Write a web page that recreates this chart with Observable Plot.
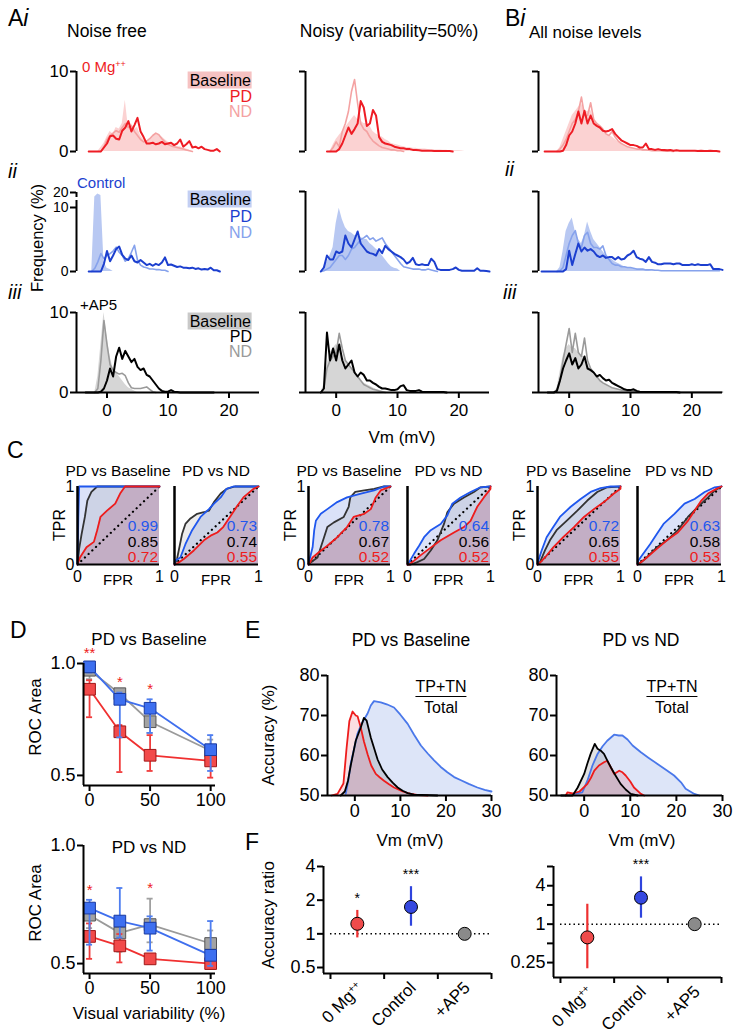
<!DOCTYPE html>
<html><head><meta charset="utf-8">
<script src="https://cdn.jsdelivr.net/npm/d3@7"></script>
<script src="https://cdn.jsdelivr.net/npm/@observablehq/plot@0.6"></script>
<style>
html,body{margin:0;padding:0;background:#fff;}
#fig{position:relative;width:739px;height:1036px;overflow:hidden;font-family:Arial,"Liberation Sans",Helvetica,sans-serif;color:#000;}
.t{position:absolute;white-space:nowrap;line-height:1;transform-origin:0 0;}
.t sup{font-size:0.6em;vertical-align:0.55em;line-height:0;}
</style></head><body><div id="fig"></div><script>
const FONT = 'Arial, "Liberation Sans", Helvetica, sans-serif';
const BIN = 0.5;
// ================= DATA =================
// Histograms (Frequency %, bins of 0.5 mV starting at x0)
const NF_MG_BASE = {x0:-1.5, v:[0,0.5,1.0,1.8,2.5,2.2,3.0,2.8,3.5,6.4,3.0,3.5,2.8,3.0,2.0,1.5,1.2,1.4,1.8,2.2,2.0,1.8,1.5,1.2,1.0,0.8,0.6,0.6,0.4,0.3,0.2,0]};
const NF_MG_ND   = {x0:-1, v:[0,0.6,1.5,2.0,2.3,2.6,2.4,3.0,3.5,3.0,3.2,2.5,2.0,1.5,1.2,1.3,1.6,2.0,2.3,2.1,1.6,1.2,0.9,0.7,0.6,0.5,0.4,0.3,0.2,0.1,0]};
const NF_MG_PD   = {x0:-3, v:[0,0,0,0,0,0.5,1.0,1.9,2.0,1.6,1.5,2.6,3.0,3.8,2.5,3.3,4.2,2.5,1.8,1.0,1.0,1.1,0.9,1.0,1.2,0.9,1.0,1.1,0.8,1.0,1.5,0.6,0.9,1.3,0.5,0.6,0.4,0.6,0.3,0.2,0.1,0.1,0.3,0]};
const NF_CT_BASE = {x0:-2.5, v:[0,17,19,18,1.5,0.5,0.3,0]};
const NF_CT_ND   = {x0:-2.5, v:[0,0.5,1.5,2.8,2.0,2.5,2.8,3.2,3.8,3.0,2.5,1.6,2.0,3.0,4.1,1.8,1.0,0.7,0.6,0.4,0.4,0.3,0.3,0.2,0.2,0]};
const NF_CT_PD   = {x0:-3, v:[0,0,0,0,0,1.2,3.2,1.6,2.5,3.5,3.9,2.6,2.0,1.8,2.5,1.6,1.4,1.8,1.4,1.0,1.2,0.9,1.2,1.0,1.4,2.2,1.0,1.1,0.9,0.7,0.8,0.6,0.6,0.5,0.6,0.4,0.5,0.3,0.4,0.3,0.6,0.2,0.2,0]};
const NF_AP_BASE = {x0:-2, v:[0,2.0,6.0,10.0,7.0,4.5,3.0,2.5,2.0,1.5,1.0,0.6,0.4,0.2,0]};
const NF_AP_ND   = {x0:-2, v:[0,0.5,4.0,9.0,6.0,3.5,2.8,2.5,2.3,2.4,2.1,1.2,0.6,0.5,0.5,0.5,0.6,0.7,0.4,0.1,0]};
const NF_AP_PD   = {x0:-3.5, v:[0,0,0,0,0,0.1,0.5,1.5,3.0,2.0,4.5,5.6,4.2,5.2,4.5,3.8,4.2,3.2,2.8,3.0,2.2,2.0,1.5,1.0,0.5,0.2,0.1,0.1,0.3,0.1,0.05,0,0,0,0,0,0,0,0,0,0,0,0]};
const NS_MG_BASE = {x0:-1, v:[0,0.8,1.5,2.0,2.5,3.0,3.5,4.0,4.5,4.0,3.8,3.5,3.5,3.2,2.5,2.2,2.0,1.8,1.5,1.3,1.0,0.9,0.8,0.7,0.6,0.5,0.5,0.4,0.4,0.3,0.3,0.3,0.25,0.2,0.2,0.2,0.2,0.15,0.15,0.1,0.1,0.1,0.1,0.05,0]};
const NS_MG_ND   = {x0:-1, v:[0,0.5,1.2,0.6,2.5,3.5,5.0,7.5,9.0,6.0,3.5,2.8,2.5,1.8,1.3,1.0,0.7,0.5,0.4,0.3,0.2,0.2,0.1,0.1,0]};
const NS_MG_PD   = {x0:-1.5, v:[0,0,0,0,0.3,1.0,2.0,3.0,2.2,2.8,3.5,6.3,5.5,3.2,3.5,5.2,4.5,1.8,1.2,1.0,0.9,0.8,0.6,0.5,0.4,0.4,0.3,0.3,0.2,0.2,0.15,0.1,0.1,0.1,0.1,0.05,0.05,0.05,0.05,0.05,0.05,0]};
const NS_CT_BASE = {x0:-2.5, v:[0,0.5,1.2,2.0,3.0,6.0,7.9,6.5,5.5,5.0,4.8,4.5,4.5,4.3,4.0,4.0,3.5,3.2,2.8,2.5,2.0,1.5,1.0,0.6,0.4,0.3,0]};
const NS_CT_ND   = {x0:-2.5, v:[0,0.1,0.3,0.5,1.0,1.5,2.0,2.0,1.5,2.0,2.8,3.0,3.5,4.0,4.2,4.5,4.0,4.2,3.8,4.0,4.2,3.5,3.0,2.5,2.0,1.5,1.0,0.6,0.5,0.4,0.3,0.3,0.3,0.2,0.2,0.3,0.2,0.1,0]};
const NS_CT_PD   = {x0:-2.5, v:[0,0.5,2.0,1.5,1.5,2.5,2.3,2.5,4.5,3.5,3.0,4.0,5.0,3.5,3.0,2.5,2.3,2.2,2.0,2.8,2.3,3.2,2.8,2.5,2.2,2.0,1.8,1.5,1.0,1.2,1.7,0.9,0.8,0.9,0.8,0.8,1.6,1.2,0.3,0.2,0.2,0.2,0.2,0.3,0.5,0.2,0.1,0.1,0.1,0.1,0.1,0.4,0.1,0.1,0.05,0]};
const NS_AP_BASE = {x0:-2.5, v:[0,1.0,3.5,5.0,5.5,6.0,5.5,4.5,4.0,3.5,3.0,2.5,2.0,1.5,1.2,1.0,0.8,0.6,0.4,0.3,0.2,0.1,0]};
const NS_AP_ND   = {x0:-2.5, v:[0,0.5,3.0,4.0,4.5,5.0,7.4,5.5,4.0,3.5,3.0,2.5,2.0,1.5,1.0,0.8,0.6,0.4,0.3,0.2,0.1,0]};
const NS_AP_PD   = {x0:-2.5, v:[0,0.5,7.5,4.0,5.5,4.0,6.0,4.0,3.0,3.5,4.0,2.5,2.0,2.5,2.2,1.5,1.5,1.2,1.0,0.7,0.5,0.5,0.4,0.3,0.3,0.4,0.8,0.9,0.3,0.2,0.2,0.2,0.3,0.1,0.05,0.05,0.05,0.05,0.05,0.05,0.05,0]};
const AL_MG_BASE = {x0:-2, v:[0,0.5,1.5,2.5,3.5,4.5,5.0,5.5,6.0,5.0,5.0,5.2,4.2,3.5,3.0,2.6,2.2,2.0,1.8,1.5,1.2,1.0,0.8,0.6,0.5,0.4,0.3,0.3,0.2,0.2,0.2,0.1,0.1,0.1,0.1,0.05,0]};
const AL_MG_ND   = {x0:-2, v:[0,0.3,0.8,1.5,2.5,3.5,4.0,5.0,6.8,4.5,4.5,6.1,4.0,3.5,3.2,2.8,2.2,2.0,2.5,1.8,1.3,1.0,0.8,0.6,0.5,0.4,0.3,0.3,0.2,0.2,0.15,0.1,0.1,0.1,0.1,0.05,0.05,0.05,0]};
const AL_MG_PD   = {x0:-4, v:[0,0,0,0,0,0,0.1,0.8,2.0,2.5,3.5,5.0,3.5,5.1,3.5,4.5,3.5,3.2,3.0,2.6,2.5,2.6,2.8,2.2,1.8,1.4,1.2,1.0,0.8,0.8,0.7,0.5,0.5,1.0,0.3,0.3,0.2,0.3,0.2,0.2,0.15,0.2,0.1,0.15,0.1,0.1,0.1,0.1,0.1,0.1,0.05,0.1,0.05,0.05,0.1,0.05,0.05,0]};
const AL_CT_BASE = {x0:-2, v:[0,0.5,2.5,5.0,6.0,6.7,5.0,4.0,3.5,4.5,6.2,5.0,4.0,3.5,3.0,2.5,2.0,1.8,1.5,1.2,1.0,0.8,0.6,0.5,0.4,0.3,0.3,0.2,0.2,0.1,0.1,0]};
const AL_CT_ND   = {x0:-2, v:[0,0.1,0.5,2.0,3.5,4.5,5.1,3.5,3.0,4.5,4.9,3.5,3.0,3.0,2.8,3.2,2.0,1.5,1.0,0.8,0.8,0.6,0.6,0.5,0.5,0.4,0.3,0.3,0.3,0.2,0.2,0.2,0.15,0.15,0.1,0.1,0.1,0.1,0.1,0.1,0.1,0.1,0.1,0.1,0.1,0.1,0.1,0.1,0.1,0.1,0.1,0.1,0.1,0.1]};
const AL_CT_PD   = {x0:-4.5, v:[0,0,0,0,0,0,0,0,0.3,2.6,0.8,2.2,3.5,2.5,3.0,2.6,2.8,2.5,2.0,1.8,2.0,1.7,1.8,1.8,1.5,1.8,1.5,1.6,2.0,2.2,2.6,1.8,1.6,1.5,1.2,1.8,1.2,1.1,0.9,0.9,1.0,1.0,1.0,0.9,1.0,1.0,0.8,0.8,0.8,0.9,0.8,0.9,0.8,0.8,0.8,0.9,0.3,0.3,0.3,0.2]};
const AL_AP_BASE = {x0:-2.5, v:[0,0.5,2.5,4.5,5.5,6.0,5.5,5.5,5.0,4.5,4.5,3.5,3.0,2.5,2.0,1.5,1.2,1.0,0.8,0.6,0.5,0.4,0.3,0.2,0.1,0.1,0.05,0]};
const AL_AP_ND   = {x0:-2.5, v:[0,0.3,1.5,4.0,6.0,8.0,5.0,7.4,5.0,4.5,6.8,4.0,3.0,2.5,2.0,1.5,1.2,1.0,0.8,0.6,0.5,0.4,0.3,0.3,0.2,0.2,0.2,0.1,0.1,0.05,0.05,0.05,0.05,0.05,0.05,0.05,0.05,0.05,0.05,0.05,0.05,0.05,0.05,0.05,0.05,0.05,0.05,0.05,0.05,0.05,0.05,0.05,0.05,0.05,0.05,0.05]};
const AL_AP_PD   = {x0:-3.5, v:[0,0,0,0.2,1.5,3.0,4.0,4.9,3.5,4.3,3.0,3.5,4.5,3.0,2.8,2.5,2.0,2.2,1.8,1.5,1.6,1.2,1.0,0.8,0.6,0.4,0.3,0.3,0.4,0.2,0.1,0.05,0.05,0.05,0.05,0.05,0.05,0.05,0.05,0.05,0.05,0.05,0.05,0]};

// ROC curves [FPR, TPR]
const DIAG = [[0,0],[1,1]];
const C1_BLUE = [[0,0],[0.005,0.3],[0.01,0.6],[0.02,1],[1,1]];
const C1_BLACK = [[0,0],[0.02,0.2],[0.05,0.39],[0.09,0.61],[0.12,0.82],[0.17,0.93],[0.24,1],[1,1]];
const C1_RED = [[0,0],[0.03,0.09],[0.11,0.22],[0.2,0.29],[0.24,0.44],[0.28,0.61],[0.36,0.69],[0.46,0.78],[0.52,0.91],[0.58,1],[1,1]];
const C2_BLUE = [[0,0],[0.01,0.05],[0.07,0.09],[0.13,0.26],[0.21,0.44],[0.31,0.61],[0.41,0.71],[0.47,0.78],[0.55,0.86],[0.62,0.97],[0.7,1],[1,1]];
const C2_BLACK = [[0,0],[0.03,0.07],[0.09,0.39],[0.13,0.52],[0.19,0.59],[0.27,0.65],[0.35,0.67],[0.41,0.69],[0.47,0.8],[0.55,0.91],[0.62,0.97],[0.72,1],[1,1]];
const C2_RED = [[0,0],[0.03,0.01],[0.11,0.07],[0.23,0.18],[0.35,0.31],[0.43,0.37],[0.51,0.41],[0.58,0.48],[0.66,0.61],[0.74,0.74],[0.82,0.86],[0.94,0.97],[1,1]];
const C3_BLUE = [[0,0],[0.01,0.05],[0.05,0.22],[0.07,0.44],[0.09,0.56],[0.15,0.65],[0.23,0.71],[0.35,0.8],[0.47,0.86],[0.64,0.91],[0.8,0.95],[0.92,1],[1,1]];
const C3_BLACK = [[0,0],[0.03,0.03],[0.11,0.09],[0.15,0.22],[0.19,0.35],[0.23,0.48],[0.31,0.54],[0.43,0.61],[0.49,0.74],[0.51,0.86],[0.57,0.93],[0.68,0.95],[0.8,0.97],[0.92,1],[1,1]];
const C3_RED = [[0,0],[0.01,0.01],[0.05,0.09],[0.13,0.16],[0.23,0.24],[0.33,0.33],[0.47,0.48],[0.55,0.61],[0.68,0.65],[0.76,0.71],[0.82,0.86],[0.88,0.95],[1,1]];
const C4_BLUE = [[0,0],[0.02,0.03],[0.08,0.14],[0.14,0.24],[0.2,0.35],[0.28,0.44],[0.4,0.52],[0.48,0.63],[0.54,0.78],[0.64,0.86],[0.76,0.93],[0.88,0.99],[1,1]];
const C4_BLACK = [[0,0],[0.04,0],[0.12,0.03],[0.2,0.07],[0.28,0.18],[0.36,0.31],[0.44,0.52],[0.48,0.67],[0.56,0.78],[0.68,0.86],[0.8,0.93],[0.88,0.99],[1,1]];
const C4_RED = [[0,0],[0.02,0],[0.08,0.05],[0.16,0.12],[0.26,0.2],[0.4,0.31],[0.56,0.41],[0.68,0.48],[0.76,0.56],[0.84,0.74],[0.92,0.86],[1,0.97],[1,1]];
const C5_BLUE = [[0,0],[0.01,0.05],[0.05,0.18],[0.11,0.35],[0.19,0.48],[0.27,0.61],[0.4,0.74],[0.52,0.84],[0.64,0.93],[0.76,0.98],[0.88,1],[1,1]];
const C5_BLACK = [[0,0],[0.03,0.03],[0.09,0.18],[0.15,0.31],[0.23,0.44],[0.35,0.56],[0.48,0.69],[0.6,0.82],[0.72,0.93],[0.84,0.99],[1,1]];
const C5_RED = [[0,0],[0.02,0.01],[0.09,0.09],[0.19,0.22],[0.31,0.35],[0.44,0.48],[0.56,0.61],[0.68,0.71],[0.8,0.8],[0.92,0.91],[1,0.97],[1,1]];
const C6_BLUE = [[0,0],[0.01,0.05],[0.07,0.14],[0.15,0.26],[0.23,0.39],[0.31,0.52],[0.44,0.65],[0.56,0.78],[0.68,0.84],[0.8,0.93],[0.92,0.99],[1,1]];
const C6_BLACK = [[0,0],[0.02,0.01],[0.11,0.09],[0.23,0.22],[0.35,0.31],[0.48,0.44],[0.6,0.61],[0.72,0.74],[0.84,0.86],[0.92,0.95],[1,1]];
const C6_RED = [[0,0],[0.02,0.01],[0.11,0.09],[0.23,0.2],[0.35,0.31],[0.48,0.41],[0.6,0.56],[0.68,0.69],[0.76,0.82],[0.84,0.91],[0.94,0.97],[1,1]];
const AUC = [[0.99,0.85,0.72],[0.73,0.74,0.55],[0.78,0.67,0.52],[0.64,0.56,0.52],[0.72,0.65,0.55],[0.63,0.58,0.53]];

// D: ROC area vs visual variability
const VIS = [0,25,50,100];
const DB_BLUE_M = [0.985,0.84,0.80,0.615], DB_BLUE_LO=[0.96,0.67,0.69,0.52], DB_BLUE_HI=[1.0,0.87,0.84,0.68];
const DB_GRAY_M = [0.97,0.865,0.74,0.61], DB_GRAY_LO=[0.93,0.84,0.69,0.55], DB_GRAY_HI=[1.0,0.87,0.79,0.66];
const DB_RED_M  = [0.885,0.695,0.59,0.565], DB_RED_LO=[0.76,0.515,0.52,0.49], DB_RED_HI=[0.925,0.725,0.68,0.58];
const DN_BLUE_M = [0.735,0.68,0.65,0.535], DN_BLUE_LO=[0.58,0.61,0.555,0.49], DN_BLUE_HI=[0.77,0.82,0.70,0.68];
const DN_GRAY_M = [0.705,0.63,0.665,0.585], DN_GRAY_LO=[0.65,0.55,0.59,0.53], DN_GRAY_HI=[0.75,0.70,0.775,0.64];
const DN_RED_M  = [0.615,0.575,0.52,0.50], DN_RED_LO=[0.52,0.505,0.50,0.49], DN_RED_HI=[0.67,0.625,0.54,0.53];
const DB_STARS = ['**','*','*',''], DN_STARS = ['*','','*',''];

// E: accuracy (%) vs Vm threshold
const EB_RED = [[-5.1,50],[-3.8,50.4],[-2.5,53],[-1.8,62],[-1.2,68.6],[-0.5,71],[0.2,70],[0.6,69.8],[1.3,67],[2,63.5],[2.8,60.3],[3.6,57.5],[4.6,55.4],[5.5,54.5],[6.4,53.7],[7.5,52.8],[8.6,52],[10.5,51],[12.3,50.4],[14,50.1],[16,50]];
const EB_BLACK = [[-3.1,50],[-2.2,51],[-1.5,53.7],[-0.9,57.5],[0.2,63.7],[1.3,67],[2,69.4],[2.6,68.7],[3.5,64.5],[5,59],[6,56.5],[7.2,54.6],[8.3,53.2],[9.4,52],[10.5,51.2],[11.6,50.6],[13,50.2],[18.1,50]];
const EB_BLUE = [[-2,50.4],[-1.4,54],[-0.9,58],[0.6,65.5],[1.5,68],[2.8,70.5],[3.5,72.5],[4.2,73.6],[5.7,73.3],[7,72.8],[8.6,72],[10,70.2],[11.6,67.9],[13,65.2],[14.5,62.5],[16,60.5],[17.4,58.8],[18.8,57.2],[20.3,55.8],[21.8,54.6],[23.3,53.8],[25,52.9],[26.9,52],[28.5,51.4],[30,51]];
const EN_BLACK = [[-5,50],[-2.5,50],[-1.4,52],[0,55.4],[0.7,58],[1.4,60.4],[2.3,62.9],[2.9,61.7],[3.6,61.2],[4.3,60.4],[5,58.8],[5.8,57],[6.8,55],[7.9,52.9],[9,51.5],[10.1,50.4],[11.6,50]];
const EN_RED = [[-4,50],[-3.6,50.8],[-2.5,50.5],[-1,51],[0.7,52.9],[1.5,54.5],[2.2,56.2],[3.2,57.5],[4.3,58.3],[5,58.7],[5.8,57],[6.5,55.4],[7.6,56.2],[8.3,55.8],[9,55],[10,53.5],[10.8,52],[12.3,50.4],[13,50]];
const EN_BLUE = [[-2.2,50.4],[-0.4,50.8],[0.7,53.7],[1.8,57.5],[2.9,60.4],[4,62.3],[5,63.7],[6.5,65.2],[7.5,65],[8.3,65],[9.4,64],[10.5,62.5],[12.3,60.8],[14,59.4],[15.9,57.9],[17.8,56.4],[19.5,55],[21,53.3],[22,51.7],[23.9,50.4],[25,50]];

// F: accuracy ratio
const CATS = ['0 Mg<sup>++</sup>','Control','+AP5'];
const FB_M = [1.23,1.74,1.0], FB_LO=[0.92,1.17,null], FB_HI=[1.62,2.64,null], FB_STARS=['*','***',''];
const FN_M = [0.62,2.6,1.0], FN_LO=[0.2,1.24,null], FN_HI=[2.05,5.5,null], FN_STARS=['','***',''];

// ================= LAYOUT HELPERS =================
const RED='#ee1c24', BLUE='#1c3fcf', LBLUE='#86a2ec', PINK='#f4a2a2', GRAY='#9a9a9a';
const root = document.getElementById('fig');
function put(el, x, y){ el.style.position='absolute'; el.style.left=x+'px'; el.style.top=y+'px'; root.appendChild(el); }
function T(html, x, y, o={}){
  const d=document.createElement('div'); d.className='t'; d.innerHTML=html;
  const a=o.anchor||'start'; const tx=a==='start'?'0':a==='middle'?'-50%':'-100%';
  d.style.left=x+'px'; d.style.top=y+'px'; d.style.fontSize=(o.size||17)+'px';
  if(o.color) d.style.color=o.color;
  if(o.bg){ d.style.background=o.bg; d.style.padding='1px 1px 0 2px'; }
  if(o.css) d.style.cssText += o.css;
  d.style.transform=`rotate(${o.rot||0}deg) translate(${tx},-50%)`;
  root.appendChild(d); return d;
}
function mk(box, m, spec){
  const [x0,y0,x1,y1]=box; const l=m.l??10, r=m.r??10, t=m.t??10, b=m.b??10;
  const svg = Plot.plot({width:l+(x1-x0)+r, height:t+(y1-y0)+b, marginLeft:l, marginRight:r, marginTop:t, marginBottom:b,
    style:{overflow:'visible', fontFamily:FONT, fontSize:(m.fs||17)+'px', color:'#000', background:'none', maxWidth:'none'}, ...spec});
  put(svg, x0-l, y0-t); svg._left=x0-l; svg._top=y0-t; return svg;
}
const ser = s => s.v.map((y,i)=>({x: s.x0 + i*BIN, y}));

// ================= HISTOGRAMS =================
const XB=[[76,259],[305,489],[538,722]];
const YB=[[71,151],[191,271],[312,392]];
const COL=[{fill:'#fbd2d2', nd:PINK, pd:RED},{fill:'#b8c8f2', nd:LBLUE, pd:BLUE},{fill:'#d6d6d6', nd:GRAY, pd:'#000'}];
function hist(ci, ri, base, nd, pd, broken){
  const [x0,x1]=XB[ci]; let [y0,y1]=YB[ri]; if(broken) y0=192;
  const t=12, b=(ri===2?32:6), l=40, r=8, H=y1-y0;
  const ticks = broken?[0,10,20]:[0,10];
  const yS = broken ? {type:'linear', domain:[0,10,20], range:[t+H, t+H-64, t]} : {domain:[0,10]};
  const C=COL[ri];
  const marks=[
    Plot.areaY(ser(base), {x:'x', y:'y', fill:C.fill}),
    Plot.lineY(ser(nd), {x:'x', y:'y', stroke:C.nd, strokeWidth:1.6}),
    Plot.lineY(ser(pd), {x:'x', y:'y', stroke:C.pd, strokeWidth:2}),
    Plot.ruleX([-5], {y1:0, y2:ticks[ticks.length-1], stroke:'#000', strokeWidth:2}),
    Plot.axisY({ticks, tickSize:6, strokeWidth:2, label:null, tickPadding:2, fontSize: broken?14:17, tickFormat: ci===0 ? (d=>String(d)) : (()=>'')})
  ];
  if(broken){ marks.push(Plot.ruleY([16],{x1:-5.6,x2:-4.4,stroke:'#fff',strokeWidth:3})); }
  if(ri===2){ marks.push(Plot.ruleY([0],{x1:-5,x2:25,stroke:'#000',strokeWidth:2}), Plot.axisX({ticks:[0,10,20], tickSize:6, strokeWidth:2, label:null, tickPadding:5})); }
  mk([x0,y0,x1,y1],{l,r,t,b},{x:{domain:[-5,25], ...(ri===2?{}:{axis:null})}, y:yS, marks});
}
hist(0,0,NF_MG_BASE,NF_MG_ND,NF_MG_PD);
hist(0,1,NF_CT_BASE,NF_CT_ND,NF_CT_PD,true);
hist(0,2,NF_AP_BASE,NF_AP_ND,NF_AP_PD);
hist(1,0,NS_MG_BASE,NS_MG_ND,NS_MG_PD);
hist(1,1,NS_CT_BASE,NS_CT_ND,NS_CT_PD);
hist(1,2,NS_AP_BASE,NS_AP_ND,NS_AP_PD);
hist(2,0,AL_MG_BASE,AL_MG_ND,AL_MG_PD);
hist(2,1,AL_CT_BASE,AL_CT_ND,AL_CT_PD);
hist(2,2,AL_AP_BASE,AL_AP_ND,AL_AP_PD);

// ================= ROC (C) =================
const ROCBOX=[[77,486,159,564],[174,486,258,564],[308,486,390,564],[407,486,490,564],[537,486,620,564],[637,486,721,564]];
const ROCS=[[C1_BLUE,C1_BLACK,C1_RED],[C2_BLUE,C2_BLACK,C2_RED],[C3_BLUE,C3_BLACK,C3_RED],[C4_BLUE,C4_BLACK,C4_RED],[C5_BLUE,C5_BLACK,C5_RED],[C6_BLUE,C6_BLACK,C6_RED]];
ROCS.forEach(([bl,bk,rd],k)=>{
  const showY = k%2===0;
  const P={x:d=>d[0], y:d=>d[1]};
  const marks=[
    Plot.areaY(bl,{...P, fill:'#8ea5ea', fillOpacity:0.32}),
    Plot.areaY(bk,{...P, fill:'#777', fillOpacity:0.14}),
    Plot.areaY(rd,{...P, fill:'#a8506e', fillOpacity:0.28}),
    Plot.line(DIAG,{stroke:'#000', strokeWidth:2.2, strokeDasharray:'0.1,5', strokeLinecap:'round'}),
    Plot.line(bk,{stroke:'#333', strokeWidth:1.8}),
    Plot.line(bl,{stroke:'#1f57ee', strokeWidth:1.8}),
    Plot.line(rd,{stroke:'#ee1c1c', strokeWidth:1.8}),
    Plot.ruleX([0],{stroke:'#000', strokeWidth:2.5}),
    Plot.ruleY([0],{stroke:'#000', strokeWidth:2}),
    Plot.axisX({ticks:[0,1], tickSize:0, tickPadding:6, label:null, tickFormat:d=>String(d)})
  ];
  if(showY) marks.push(Plot.axisY({ticks:[0,1], tickSize:0, tickPadding:3, label:null, tickFormat:d=>String(d)}));
  mk(ROCBOX[k],{l:14,r:6,t:6,b:24,fs:16},{x:{domain:[0,1]}, y:{domain:[0,1], ...(showY?{}:{axis:null})}, marks});
  const [x0,y0,x1,y1]=ROCBOX[k];
  T(k%2===0?'PD vs Baseline':'PD vs ND',(x0+x1)/2,471,{anchor:'middle',size:15.5});
  T('FPR',(x0+x1)/2,579,{anchor:'middle',size:15});
  const cols=['#1f57ee','#000','#ee1c1c'];
  AUC[k].forEach((v,j)=>T(v.toFixed(2), x1-1, 526+j*15.5, {anchor:'end', size:15.5, color:cols[j]}));
  if(showY) T('TPR', x0-17, 525, {rot:-90, anchor:'middle', size:16});
});

// ================= D =================
function dplot(box, ydom, groups, stars){
  const marks=[];
  groups.forEach(g=>{
    const data=VIS.map((x,i)=>({x, m:g.m[i], lo:g.lo[i], hi:g.hi[i]}));
    marks.push(
      Plot.ruleX(data,{x:'x', y1:'lo', y2:'hi', stroke:g.err, strokeWidth:1.8}),
      Plot.ruleY(data,{y:'lo', x1:d=>d.x-2.5, x2:d=>d.x+2.5, stroke:g.err, strokeWidth:1.8}),
      Plot.ruleY(data,{y:'hi', x1:d=>d.x-2.5, x2:d=>d.x+2.5, stroke:g.err, strokeWidth:1.8}),
      Plot.line(data,{x:'x', y:'m', stroke:g.line, strokeWidth:1.8}),
      Plot.dot(data,{x:'x', y:'m', symbol:'square', r:6.6, fill:g.fill, stroke:g.stroke, strokeWidth:1})
    );
  });
  const top = VIS.map((x,i)=>({x, y:Math.max(...groups.map(g=>g.hi[i])), s:stars[i]}));
  marks.push(
    Plot.text(top,{x:'x', y:'y', text:'s', fill:'#ee1c1c', fontSize:15, dy:-10}),
    Plot.ruleX([-5],{y1:ydom[0], y2:1.0, stroke:'#000', strokeWidth:2}),
    Plot.ruleY([ydom[0]],{x1:-5, x2:104, stroke:'#000', strokeWidth:2}),
    Plot.axisY({ticks:[0.5,1.0], tickFormat:'.1f', tickSize:6, strokeWidth:2, tickPadding:2, label:null}),
    Plot.axisX({ticks:[0,50,100], tickSize:6, strokeWidth:2, tickPadding:2, label:null})
  );
  mk(box,{l:45,r:12,t:14,b:30,fs:18},{x:{domain:[-5,104]}, y:{domain:ydom}, marks});
}
const GB=(m,lo,hi)=>({m,lo,hi,err:'#a0a0a0',line:'#9a9a9a',fill:'#a3a3a3',stroke:'#555'});
const RB=(m,lo,hi)=>({m,lo,hi,err:'#f03c3c',line:'#f03030',fill:'#f24a4a',stroke:'#a01818'});
const BB=(m,lo,hi)=>({m,lo,hi,err:'#4f7ef0',line:'#3f6fee',fill:'#3d6ff0',stroke:'#1a3aa0'});
dplot([83,663,215,785],[0.455,1.0],[GB(DB_GRAY_M,DB_GRAY_LO,DB_GRAY_HI),RB(DB_RED_M,DB_RED_LO,DB_RED_HI),BB(DB_BLUE_M,DB_BLUE_LO,DB_BLUE_HI)],DB_STARS);
dplot([83,845,215,973],[0.458,1.0],[GB(DN_GRAY_M,DN_GRAY_LO,DN_GRAY_HI),RB(DN_RED_M,DN_RED_LO,DN_RED_HI),BB(DN_BLUE_M,DN_BLUE_LO,DN_BLUE_HI)],DN_STARS);

// ================= E =================
function eplot(box, bl, bk, rd){
  const P={x:d=>d[0], y1:50, y2:d=>d[1]};
  const marks=[
    Plot.areaY(bl,{...P, fill:'#dde5f8'}),
    Plot.areaY(bk,{...P, fill:'#777', fillOpacity:0.22}),
    Plot.areaY(rd,{...P, fill:'#e86a7a', fillOpacity:0.22}),
    Plot.line(bl,{stroke:'#4a78ea', strokeWidth:1.8}),
    Plot.line(rd,{stroke:'#ee1c1c', strokeWidth:1.8}),
    Plot.line(bk,{stroke:'#000', strokeWidth:1.8}),
    Plot.ruleX([-6],{y1:50,y2:80,stroke:'#000',strokeWidth:2}),
    Plot.ruleY([50],{x1:-6,x2:30,stroke:'#000',strokeWidth:2}),
    Plot.axisY({ticks:[50,60,70,80], tickSize:6, strokeWidth:2, tickPadding:2, label:null}),
    Plot.axisX({ticks:[0,10,20,30], tickSize:6, strokeWidth:2, tickPadding:3, label:null})
  ];
  mk(box,{l:36,r:14,t:10,b:30,fs:18},{x:{domain:[-6,30]}, y:{domain:[50,80]}, marks});
}
eplot([327,675,491,795],EB_BLUE,EB_BLACK,EB_RED);
eplot([556,675,722,795],EN_BLUE,EN_BLACK,EN_RED);

// ================= F =================
function fplot(box, ydom, ticks, lab, M, LO, HI, ST){
  const fills=['#ef4b4b','#3548e0','#8a8a8a'], errs=['#ee3030','#2f44dd',null];
  const data=M.map((m,i)=>({i, m, lo:LO[i], hi:HI[i], fill:fills[i], err:errs[i], s:ST[i]}));
  const eb=data.filter(d=>d.lo!=null);
  const marks=[
    Plot.ruleY([1],{x1:-0.5,x2:2.5,stroke:'#000',strokeWidth:1.5,strokeDasharray:'1.5,3'}),
    Plot.ruleX(eb,{x:'i', y1:'lo', y2:'hi', stroke:'err', strokeWidth:2.2}),
    Plot.dot(data,{x:'i', y:'m', r:6.5, fill:'fill', stroke:'#000', strokeWidth:1}),
    Plot.text(eb,{x:'i', y:'hi', text:'s', fontSize:14, dy:-12}),
    Plot.ruleX([-0.63],{y1:ydom[0],y2:ydom[1],stroke:'#000',strokeWidth:2}),
    Plot.ruleY([ydom[0]],{x1:-0.63,x2:2.5,stroke:'#000',strokeWidth:2}),
    Plot.axisY({ticks, tickFormat:d=>lab.includes(d)?String(d):'', tickSize:6, strokeWidth:2, tickPadding:2, label:null}),
    Plot.axisX({ticks:[-0.5,0.5,1.5,2.5], tickFormat:()=>'', tickSize:6, strokeWidth:2, label:null})
  ];
  const svg = mk(box,{l:45,r:10,t:10,b:20,fs:18},{x:{domain:[-0.63,2.5]}, y:{type:'log', base:2, domain:ydom}, marks});
  const xs = svg.scale('x');
  CATS.forEach((c,i)=>T(c, svg._left + xs.apply(i) + 3, box[3]+12, {anchor:'end', rot:-45, size:17}));
}
fplot([323,866,491,973],[0.442,4],[0.5,1,2,4],[0.5,1,2,4],FB_M,FB_LO,FB_HI,FB_STARS);
fplot([553,866,721,977],[0.146,8],[0.25,0.5,1,2,4,8],[0.25,1,4],FN_M,FN_LO,FN_HI,FN_STARS);

// ================= TEXT =================
T('A<i>i</i>', 8, 18, {size:23});
T('Noise free', 67, 32, {size:17.5});
T('Noisy (variability=50%)', 389, 32, {anchor:'middle', size:17.5});
T('B<i>i</i>', 505, 18, {size:23});
T('All noise levels', 529, 32, {size:17});
T('0 Mg<sup>++</sup>', 82, 66, {size:15, color:RED});
T('Baseline', 252, 80, {anchor:'end', size:16, bg:'#f6c2c2'});
T('PD', 252, 97, {anchor:'end', size:16, color:RED});
T('ND', 252, 112, {anchor:'end', size:16, color:PINK});
T('Control', 77, 182, {size:15, color:BLUE});
T('Baseline', 252, 199, {anchor:'end', size:16, bg:'#c3cff3'});
T('PD', 252, 217, {anchor:'end', size:16, color:BLUE});
T('ND', 252, 233, {anchor:'end', size:16, color:LBLUE});
T('+AP5', 80, 304, {size:15});
T('Baseline', 252, 321, {anchor:'end', size:16, bg:'#c9c9c9'});
T('PD', 252, 337, {anchor:'end', size:16});
T('ND', 252, 352, {anchor:'end', size:16, color:GRAY});
T('<i>ii</i>', 8, 171, {size:20});
T('<i>iii</i>', 8, 292, {size:20});
T('<i>ii</i>', 505, 169, {size:20});
T('<i>iii</i>', 503, 292, {size:20});
T('Frequency (%)', 37, 238, {rot:-90, anchor:'middle', size:16.5});
T('Vm (mV)', 402, 437, {anchor:'middle', size:17});
T('C', 7, 450, {size:23});
T('D', 10, 630, {size:23});
T('PD vs Baseline', 149, 639, {anchor:'middle', size:17});
T('ROC Area', 35, 717, {rot:-90, anchor:'middle', size:17});
T('PD vs ND', 149, 847, {anchor:'middle', size:17});
T('ROC Area', 35, 903, {rot:-90, anchor:'middle', size:17});
T('Visual variability (%)', 149, 1013, {anchor:'middle', size:17});
T('E', 245, 630, {size:23});
T('PD vs Baseline', 411, 641, {anchor:'middle', size:17.5});
T('PD vs ND', 641, 641, {anchor:'middle', size:17.5});
T('Accuracy (%)', 268, 735, {rot:-90, anchor:'middle', size:17});
T('TP+TN', 441, 688, {anchor:'middle', size:16, css:'border-bottom:1.5px solid #000;padding-bottom:1px;'});
T('Total', 441, 708, {anchor:'middle', size:16});
T('TP+TN', 672, 688, {anchor:'middle', size:16, css:'border-bottom:1.5px solid #000;padding-bottom:1px;'});
T('Total', 672, 708, {anchor:'middle', size:16});
T('Vm (mV)', 410, 840, {anchor:'middle', size:17});
T('Vm (mV)', 642, 840, {anchor:'middle', size:17});
T('F', 245, 842, {size:23});
T('Accuracy ratio', 268, 915, {rot:-90, anchor:'middle', size:17});
</script></body></html>
